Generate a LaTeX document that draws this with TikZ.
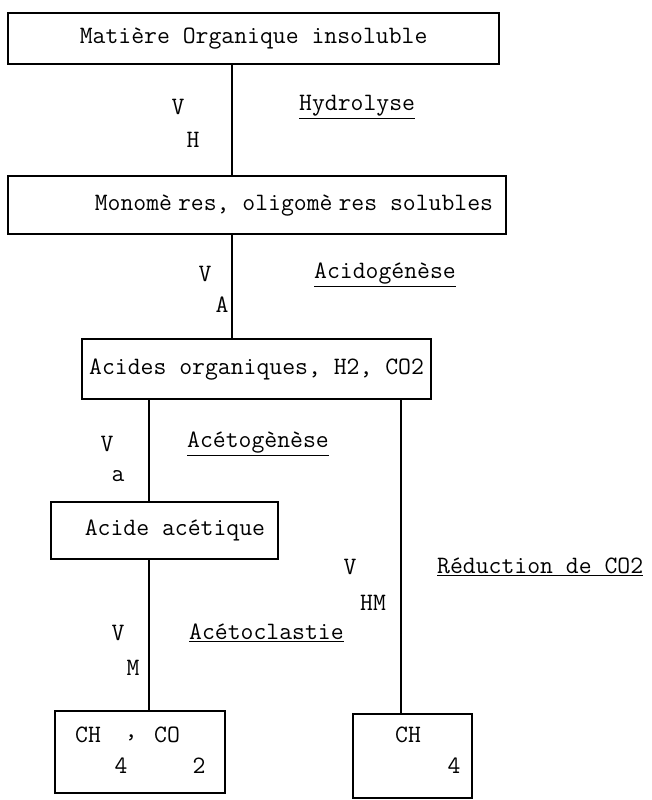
\documentclass[tikz,border=0pt]{standalone}
\usetikzlibrary{positioning,scopes}

\begin{document}
\begin{tikzpicture}[
    x=1pt,y=-1pt,
    every node/.style={font=\fontsize{25}{30}\selectfont\ttfamily},
    stage/.style={draw,line width=2.2pt,anchor=north west,inner sep=0pt,align=center},
    rate/.style={inner sep=0pt},
    process/.style={anchor=west,inner sep=0pt},
    flow/.style={line width=2.2pt},
]
\useasboundingbox (0,0) rectangle (651,800);

%%%
% boxes
\node[stage,minimum width=491pt,minimum height=51pt] (mat) at (7,12) {Matière Organique insoluble};
\node[stage,minimum height=58pt,inner xsep=13pt] (mono) at (7,175)
    {\makebox[472pt][r]{Monomè\hspace{6pt}res, oligomè\hspace{6pt}res solubles}};
\node[stage,minimum width=349pt,minimum height=60pt] (acid) at (81,338) {Acides organiques, H2, CO2};
\node[stage,minimum height=57pt,inner xsep=13pt] (acet) at (50,501) {\makebox[201pt][r]{Acide acétique}};
\node[stage,minimum width=170pt,minimum height=82pt] (prodA) at (54,710) {};
\node[stage,minimum width=119pt,minimum height=84pt] (prodB) at (352,713) {};

% contents of the last boxes
\node[rate] (chA) at (88,735) {CH};
\node[rate] (comma) at (131,738) {,};
\node[rate] (coA) at (167,735) {CO};
\node[rate] (fourA) at (121,766) {4};
\node[rate] (twoA) at (199,766) {2};
\node[rate] (chB) at (408,735) {CH};
\node[rate] (fourB) at (454,766) {4};

%%%
% connectors
\coordinate (xa) at (232,0);
\coordinate (xb) at (149,0);
\coordinate (xc) at (401,0);
{[flow]
    \draw (mat.south -| xa) -- (mono.north -| xa);
    \draw (mono.south -| xa) -- (acid.north -| xa);
    \draw (acid.south -| xb) -- (acet.north -| xb);
    \draw (acet.south -| xb) -- (prodA.north -| xb);
    \draw (acid.south -| xc) -- (prodB.north -| xc);
}

%%%
% rates and steps
\node[rate] (vH) at (178,107) {V};
\node[rate] (sH) at (193,140) {H};
\node[process] (hydro) at (299,107) {\underline{Hydrolyse}};

\node[rate] (vA) at (205,274) {V};
\node[rate] (sA) at (222,305) {A};
\node[process] (acido) at (314,275) {\underline{Acidogénèse}};

\node[rate] (va) at (107,444) {V};
\node[rate] (sa) at (118,476) {a};
\node[process] (aceto) at (187,444) {\underline{Acétogènèse}};

\node[rate] (vHM) at (350,567) {V};
\node[rate] (sHM) at (373,603) {HM};
\node[process] (reduc) at (437,567) {\underline{Réduction de CO2}};

\node[rate] (vM) at (118,633) {V};
\node[rate] (sM) at (133,668) {M};
\node[process] (clast) at (189,633) {\underline{Acétoclastie}};

\end{tikzpicture}
\end{document}
